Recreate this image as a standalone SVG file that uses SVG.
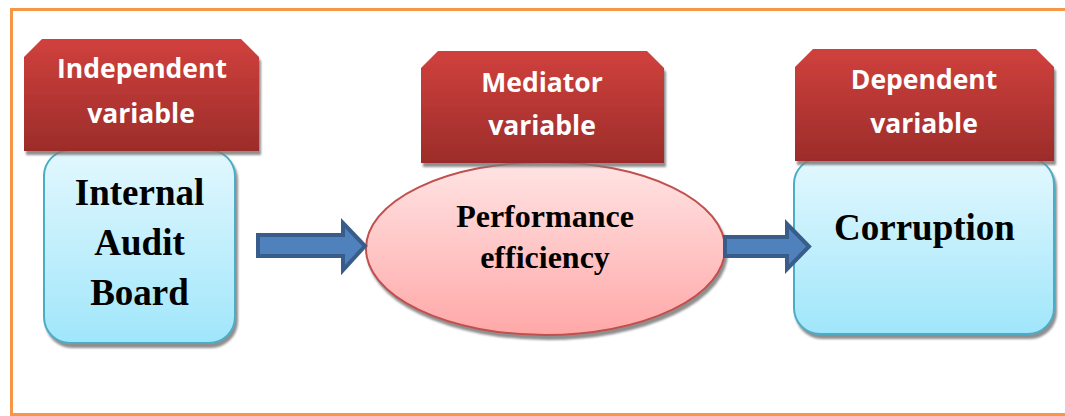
<svg xmlns="http://www.w3.org/2000/svg" width="1065" height="416" viewBox="0 0 1065 416">
  <defs>
    <linearGradient id="gHead" x1="0" y1="0" x2="0" y2="1">
      <stop offset="0" stop-color="#D0413D"/>
      <stop offset="1" stop-color="#9C2C2A"/>
    </linearGradient>
    <linearGradient id="gBox" x1="0" y1="0" x2="0" y2="1">
      <stop offset="0" stop-color="#E3F8FE"/>
      <stop offset="1" stop-color="#A0E6FB"/>
    </linearGradient>
    <linearGradient id="gEll" x1="0" y1="0" x2="0" y2="1">
      <stop offset="0" stop-color="#FFE4E4"/>
      <stop offset="1" stop-color="#FFA8A8"/>
    </linearGradient>
    <filter id="shadow" x="-10%" y="-10%" width="125%" height="130%">
      <feDropShadow dx="2" dy="4" stdDeviation="1.2" flood-color="#7a7a7a" flood-opacity="0.85"/>
    </filter>
  </defs>
  <style>
    .head { fill: url(#gHead); filter: url(#shadow); }
    .htxt { font-family: "Open Sans", "Liberation Sans", sans-serif; font-weight: bold; font-size: 26.5px; fill: #ffffff; text-anchor: middle; }
    .box { fill: url(#gBox); stroke: #4BACC6; stroke-width: 2; filter: url(#shadow); }
    .ell { fill: url(#gEll); stroke: #C0504D; stroke-width: 2; filter: url(#shadow); }
    .ntxt { font-family: "Liberation Serif", "Times New Roman", serif; font-weight: bold; fill: #000000; text-anchor: middle; }
    .arrow { fill: #4F81BD; stroke: #385D8A; stroke-width: 4; stroke-linejoin: miter; }
  </style>
  <rect width="1065" height="416" fill="#ffffff"/>
  <rect x="11.5" y="9.5" width="1100" height="405" fill="none" stroke="#F79646" stroke-width="3"/>

  <g id="node-internal-audit-board">
    <rect class="box" x="44" y="150" width="191" height="193" rx="26" ry="26"/>
    <text class="ntxt" font-size="37" x="139.5" y="205">Internal</text>
    <text class="ntxt" font-size="37" x="139.5" y="255">Audit</text>
    <text class="ntxt" font-size="37" x="139.5" y="305">Board</text>
  </g>
  <g id="label-independent">
    <path class="head" d="M24,57 L42,39 L241,39 L259,57 L259,151 L24,151 Z"/>
    <text class="htxt" x="142" y="78">Independent</text>
    <text class="htxt" x="141" y="123">variable</text>
  </g>

  <g id="node-performance-efficiency">
    <ellipse class="ell" cx="545.5" cy="248.5" rx="179.5" ry="86.5"/>
    <text class="ntxt" font-size="32" x="545" y="227">Performance</text>
    <text class="ntxt" font-size="32" x="545" y="268">efficiency</text>
  </g>
  <g id="label-mediator">
    <path class="head" d="M421,68 L438,51 L647,51 L664,68 L664,163 L421,163 Z"/>
    <text class="htxt" x="542" y="92">Mediator</text>
    <text class="htxt" x="542" y="135">variable</text>
  </g>

  <g id="node-corruption">
    <rect class="box" x="794" y="158" width="260" height="176" rx="26" ry="26"/>
    <text class="ntxt" font-size="37" x="924.5" y="240">Corruption</text>
  </g>
  <g id="label-dependent">
    <path class="head" d="M795,67 L813,49 L1036,49 L1054,67 L1054,161 L795,161 Z"/>
    <text class="htxt" x="924" y="89">Dependent</text>
    <text class="htxt" x="924" y="133">variable</text>
  </g>

  <g id="connectors">
    <path class="arrow" d="M258,235 L343,235 L343,223 L365,246 L343,270 L343,256 L258,256 Z"/>
    <path class="arrow" d="M725,237 L787,237 L787,224 L809,246.5 L787,269 L787,256 L725,256 Z"/>
  </g>
</svg>
